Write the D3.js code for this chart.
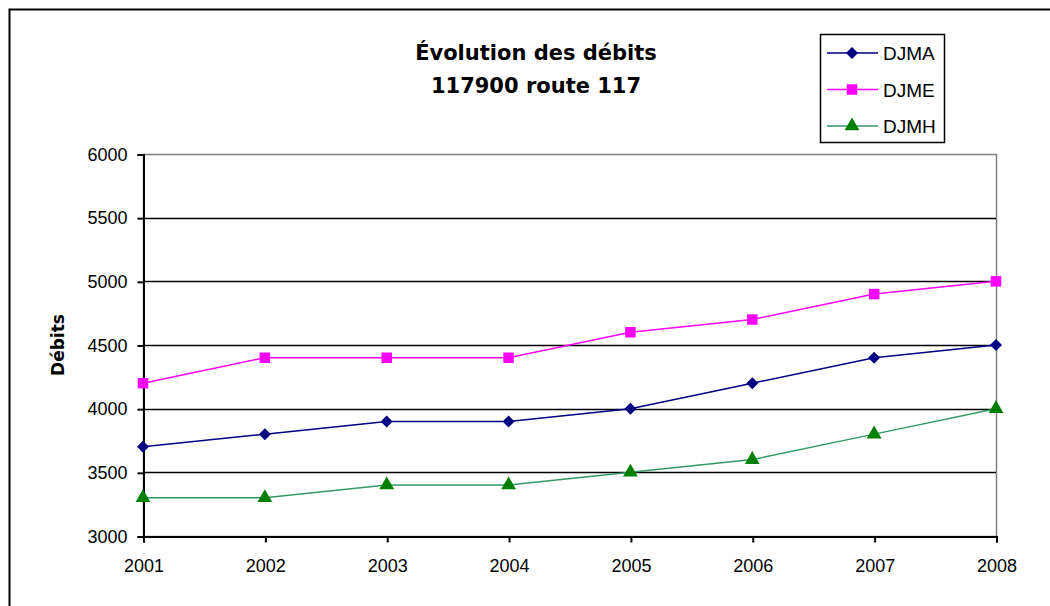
<!DOCTYPE html>
<html>
<head>
<meta charset="utf-8">
<script src="https://cdn.jsdelivr.net/npm/d3@7"></script>
<style>
  body { margin: 0; background: #fff; }
  text { font-family: "Liberation Sans", Arial, sans-serif; }
</style>
</head>
<body>
<svg id="chart" width="1050" height="606"></svg>
<script>
var years = [2001, 2002, 2003, 2004, 2005, 2006, 2007, 2008];
var djma = [3700, 3800, 3900, 3900, 4000, 4200, 4400, 4500];
var djme = [4200, 4400, 4400, 4400, 4600, 4700, 4900, 5000];
var djmh = [3300, 3300, 3400, 3400, 3500, 3600, 3800, 4000];
var yTicks = [3000, 3500, 4000, 4500, 5000, 5500, 6000];

var series = [
    {name: "DJMA", values: djma, line: "#000080", fill: "#000080", shape: "diamond"},
    {name: "DJME", values: djme, line: "#ff00ff", fill: "#ff00ff", shape: "square"},
    {name: "DJMH", values: djmh, line: "#339966", fill: "#008000", shape: "triangle"}
];

var svg = d3.select("#chart");
var plotLeft = 143, plotRight = 996, plotTop = 154, plotBottom = 536;

function marker(shape) {
    if (shape === "diamond") return d3.symbol().type(d3.symbolSquare).size(72)();
    if (shape === "square") return d3.symbol().type(d3.symbolSquare).size(110)();
    return d3.symbol().type(d3.symbolTriangle).size(95)();
}
function markerRot(shape) { return shape === "diamond" ? " rotate(45)" : ""; }

// outer frame (cropped on right and bottom)
svg.append("rect")
    .attr("x", 9.5).attr("y", 9.5)
    .attr("width", 1100).attr("height", 700)
    .attr("fill", "none").attr("stroke", "#000").attr("stroke-width", 2);

var x = d3.scalePoint().domain(years).range([plotLeft, plotRight]);
var y = d3.scaleLinear().domain([3000, 6000]).range([plotBottom, plotTop]);

// plot area border
svg.append("rect")
    .attr("x", plotLeft + 0.5).attr("y", plotTop + 0.5)
    .attr("width", plotRight - plotLeft).attr("height", plotBottom - plotTop)
    .attr("fill", "none").attr("stroke", "#808080").attr("stroke-width", 1.5);

// gridlines
svg.append("g")
    .selectAll("line")
    .data(yTicks.slice(1, -1))
    .enter().append("line")
    .attr("x1", plotLeft).attr("x2", plotRight)
    .attr("y1", function(d) { return Math.round(y(d)) + 0.5; })
    .attr("y2", function(d) { return Math.round(y(d)) + 0.5; })
    .attr("stroke", "#000").attr("stroke-width", 1.5);

var yAxis = svg.append("g")
    .attr("transform", "translate(" + (plotLeft + 0.5) + ",0.5)")
    .call(d3.axisLeft(y).tickValues(yTicks).tickSize(6).tickPadding(10).tickFormat(d3.format("d")));

var xAxis = svg.append("g")
    .attr("transform", "translate(0.5," + (plotBottom + 0.5) + ")")
    .call(d3.axisBottom(x).tickSize(6).tickPadding(17).tickFormat(d3.format("d")));

[yAxis, xAxis].forEach(function(a) {
    a.select(".domain").attr("stroke", "#000").attr("stroke-width", 2);
    a.selectAll(".tick line").attr("stroke", "#000").attr("stroke-width", 2);
    a.selectAll("text").attr("font-size", 18).attr("fill", "#000")
        .style("font-family", "'Liberation Sans', Arial, sans-serif");
});

var line = d3.line()
    .x(function(d, i) { return x(years[i]); })
    .y(function(d) { return y(d); });

series.forEach(function(s) {
    svg.append("path")
        .datum(s.values)
        .attr("d", line)
        .attr("fill", "none")
        .attr("stroke", s.line)
        .attr("stroke-width", 1.5);

    svg.append("g")
        .selectAll("path")
        .data(s.values)
        .enter().append("path")
        .attr("d", marker(s.shape))
        .attr("transform", function(d, i) { return "translate(" + x(years[i]) + "," + y(d) + ")" + markerRot(s.shape); })
        .attr("fill", s.fill);
});

// title
var title = svg.append("text")
    .attr("text-anchor", "middle")
    .attr("font-size", 21).attr("font-weight", "bold")
    .style("font-family", "'DejaVu Sans', Verdana, sans-serif");
title.append("tspan").attr("x", 536).attr("y", 60).text("Évolution des débits");
title.append("tspan").attr("x", 536).attr("y", 93).text("117900 route 117");

// y label
svg.append("text")
    .attr("transform", "translate(64,345) rotate(-90)")
    .attr("text-anchor", "middle")
    .attr("font-size", 17).attr("font-weight", "bold")
    .style("font-family", "'DejaVu Sans', Verdana, sans-serif")
    .text("Débits");

// legend
var legend = svg.append("g").attr("class", "legend");
legend.append("rect")
    .attr("x", 820.5).attr("y", 34.5)
    .attr("width", 124).attr("height", 108)
    .attr("fill", "#fff").attr("stroke", "#000").attr("stroke-width", 1.5);

legend.selectAll("g.item").data(series)
    .enter().append("g")
    .attr("class", "item")
    .each(function(d, i) {
        var g = d3.select(this);
        var ly = 53 + i * 36.5;
        g.append("line")
            .attr("x1", 827).attr("x2", 878)
            .attr("y1", ly).attr("y2", ly)
            .attr("stroke", d.line).attr("stroke-width", 1.5);
        g.append("path")
            .attr("d", marker(d.shape))
            .attr("transform", "translate(852," + ly + ")" + markerRot(d.shape))
            .attr("fill", d.fill);
        g.append("text")
            .attr("x", 883).attr("y", ly + 7)
            .attr("font-size", 19)
            .text(d.name);
    });
</script>
</body>
</html>
